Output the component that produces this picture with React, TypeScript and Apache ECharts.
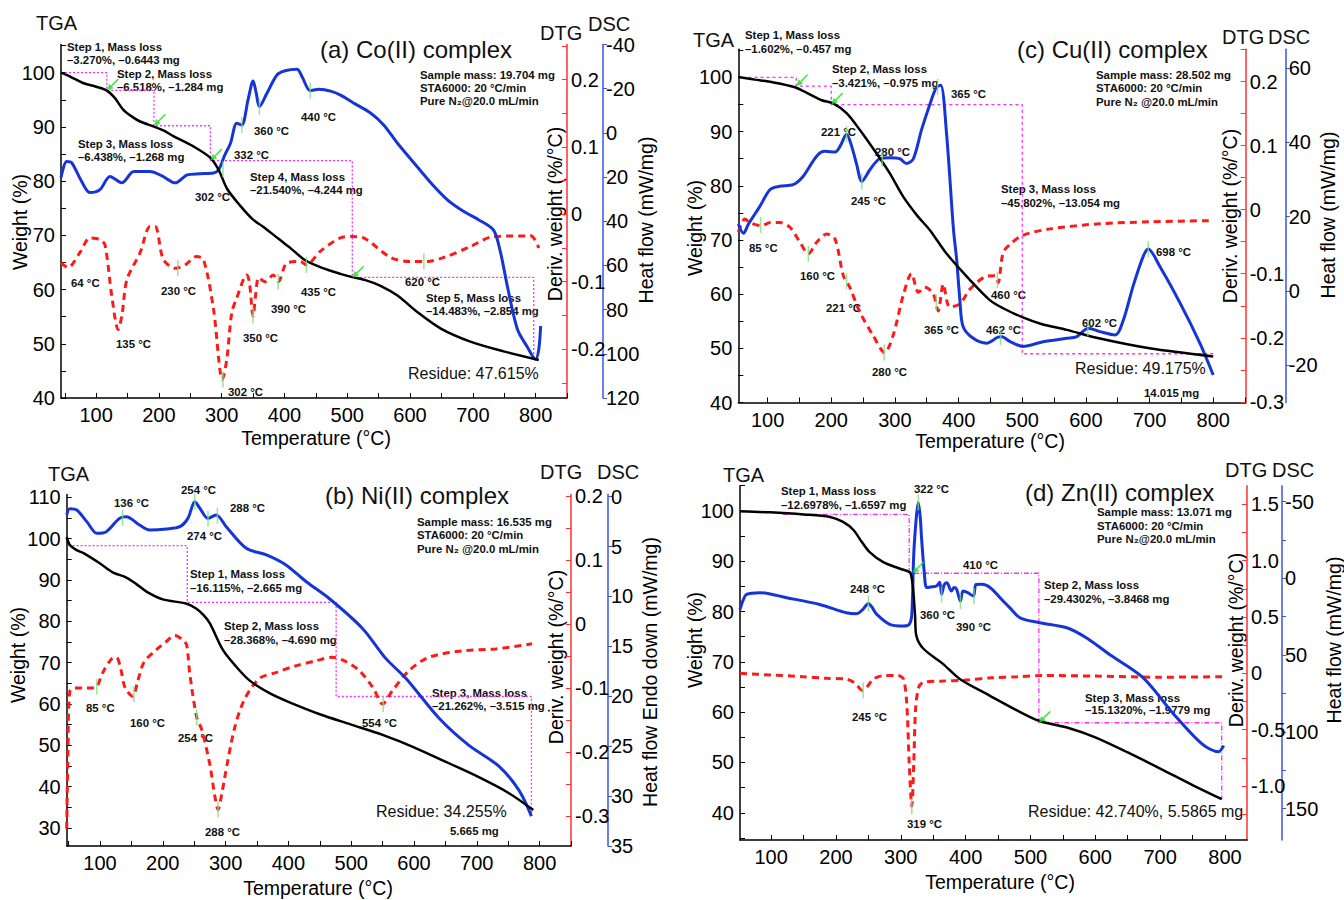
import React, { useEffect, useRef } from "react";
import * as echarts from "echarts";

const FONT = '"Liberation Sans", Arial, Helvetica, sans-serif';

// ---------------- (a) Co(II) complex ----------------
const coTGA = [[44,100],[60,99.2],[79,98.1],[100,97.4],[117,96.7],[130,95.3],[143,93.2],[157,91.9],[170,91.0],[191,90.1],[208,89.3],[223,88.3],[255,86.4],[282,84.3],[295,82.1],[309,78.5],[330,75.4],[350,72.9],[366,71.6],[390,69.4],[410,67.6],[433,65.4],[460,64.0],[489,62.9],[508,62.3],[530,61.7],[553,60.7],[580,58.9],[611,55.9],[649,52.8],[696,50.4],[749,48.6],[805,47.0]];
const coDTG = [[44,-0.072],[55,-0.079],[74,-0.057],[90,-0.035],[100,-0.036],[106,-0.038],[114,-0.045],[125,-0.122],[135,-0.171],[141,-0.15],[149,-0.097],[170,-0.057],[186,-0.018],[194,-0.018],[207,-0.067],[226,-0.08],[242,-0.075],[260,-0.0625],[271,-0.067],[287,-0.141],[301,-0.245],[308,-0.216],[316,-0.146],[324,-0.124],[340,-0.09],[344,-0.1],[350,-0.151],[354,-0.12],[359,-0.094],[369,-0.1],[382,-0.09],[390,-0.1],[404,-0.072],[425,-0.07],[435,-0.075],[457,-0.055],[489,-0.035],[508,-0.033],[526,-0.035],[569,-0.064],[600,-0.07],[627,-0.07],[654,-0.064],[696,-0.048],[733,-0.033],[792,-0.032],[805,-0.05]];
const coDSC = [[44,20.3],[53,13],[61,13.5],[75,21],[90,27],[106,25.7],[122,19.7],[141,22.6],[160,17.5],[186,17.5],[205,19.5],[226,22.6],[245,19],[265,18.5],[287,18.2],[295,16.7],[305,10],[314,4.7],[324,-4.4],[332,-3.6],[342,-15],[350,-23.5],[355,-18],[360,-11.9],[372,-17.9],[388,-26.2],[401,-28.1],[420,-28.8],[428,-25.4],[441,-19.1],[455,-19.8],[475,-18.8],[490,-17],[510,-13.5],[537,-9],[558,-3.6],[580,4.7],[606,13.5],[633,22.6],[659,30.2],[685,35.5],[709,39.3],[733,44],[744,54],[755,69.4],[771,88.9],[787,97],[800,102.5],[805,98],[808,87.4]];
const coStepT = [44,117,192,282,508,797];
const coStepW = [100,96.73,90.21,83.77,62.23,47.75];
const coArrows = [[117,96.7],[192,90.2],[282,83.8],[508,62.2]];
const coDscPeaks = [[302,16.5],[332,-3.6],[360,-11.9],[441,-19.1]];
const coDtgPeaks = [[230,-0.08],[302,-0.245],[350,-0.15],[390,-0.1],[435,-0.075],[622,-0.07]];

// ---------------- (b) Ni(II) complex ----------------
const niTGA = [[47,100.4],[52,98.5],[62,97.3],[74,96.5],[100,94],[121,91.8],[142,90.6],[158,89],[174,87.2],[200,85.3],[237,84.3],[253,83.1],[265,81.5],[275,79.5],[296,73],[317,69],[338,65.7],[370,62.6],[400,60.5],[450,57.5],[500,55],[550,52.5],[600,49.5],[650,46],[700,42.5],[750,38.5],[790,34.3]];
const niDTG = [[47,-0.32],[49,-0.2],[52,-0.105],[60,-0.1],[75,-0.1],[88,-0.1],[95,-0.098],[105,-0.075],[118,-0.055],[126,-0.052],[133,-0.07],[140,-0.1],[152,-0.113],[160,-0.09],[170,-0.06],[190,-0.04],[205,-0.028],[219,-0.018],[232,-0.025],[238,-0.033],[243,-0.078],[254,-0.146],[262,-0.165],[275,-0.22],[283,-0.27],[288,-0.29],[294,-0.265],[298,-0.243],[314,-0.164],[330,-0.118],[354,-0.085],[380,-0.076],[410,-0.066],[444,-0.0575],[470,-0.052],[490,-0.058],[513,-0.073],[535,-0.1],[550,-0.125],[565,-0.105],[592,-0.073],[624,-0.052],[677,-0.042],[730,-0.039],[788,-0.031]];
const niDSC = [[47,1.83],[52,1.2],[63,1.33],[79,2.5],[95,3.67],[110,3.5],[131,2.17],[142,2],[163,2.84],[179,3.34],[206,3.24],[227,3],[240,2.17],[251,0.5],[259,1.16],[272,2.17],[285,1.83],[301,3],[333,5.17],[365,5.84],[396,6.84],[428,8.5],[465,10.2],[518,13.2],[555,16.2],[587,18.2],[640,22.2],[687,24.9],[735,27],[767,29.4],[787,32]];
const niStepT = [50,239,476,787];
const niStepW = [98.3,84.6,61.8,33.3];
const niArrows: number[][] = [];
const niDscPeaks = [[136,2.1],[251,0.5],[272,2.2],[287,1.9]];
const niDtgPeaks = [[95,-0.098],[154,-0.11],[254,-0.146],[288,-0.29],[551,-0.125]];

// ---------------- (c) Cu(II) complex ----------------
const cuTGA = [[54,100.1],[80,99.6],[104,99.2],[143,98.2],[166,96.9],[185,95.8],[203,95.2],[224,93.4],[245,90.3],[271,86],[292,82.3],[313,78],[335,74.5],[355,71.8],[381,67.5],[418,62.6],[449,58.9],[470,57.4],[499,55.8],[530,54.5],[570,53.4],[622,51.8],[700,50],[800,48.5]];
const cuDTG = [[54,-0.035],[60,-0.02],[64,-0.0145],[72,-0.02],[90,-0.025],[105,-0.02],[119,-0.02],[135,-0.0275],[151,-0.051],[164,-0.069],[177,-0.051],[193,-0.038],[206,-0.046],[219,-0.103],[229,-0.121],[245,-0.16],[266,-0.197],[284,-0.223],[297,-0.197],[313,-0.134],[326,-0.1],[337,-0.129],[347,-0.121],[360,-0.131],[368,-0.158],[376,-0.116],[386,-0.152],[402,-0.147],[418,-0.124],[441,-0.105],[457,-0.103],[462,-0.114],[470,-0.067],[481,-0.054],[501,-0.04],[544,-0.03],[622,-0.022],[701,-0.019],[800,-0.017]];
const cuDSC = [[54,18],[62,15.5],[70,18],[88,22.8],[104,27.3],[119,28.2],[140,28.6],[156,30.9],[177,36.3],[190,37.6],[206,37.4],[214,39],[224,42.2],[232,39],[240,34],[248,29.5],[261,32.7],[276,35.6],[292,35.9],[308,35.6],[318,34.3],[329,35.6],[342,43.5],[355,50.3],[365,54.8],[372,55.4],[381,42.6],[392,16.5],[397,8.4],[402,-2.4],[407,-9.6],[423,-12.8],[444,-14.1],[462,-12.5],[468,-12.4],[481,-13.7],[501,-15],[533,-13.7],[570,-12.8],[585,-12.4],[604,-10.1],[622,-11],[646,-11.9],[659,-7.8],[674,1.2],[690,9.3],[698,11.3],[716,6.6],[748,-3.3],[779,-14.1],[800,-22.7]];
const cuStepT = [70,145,200,500,800];
const cuStepW = [100,98.4,95.0,49.0];
const cuArrows = [[145,98.4],[200,95.0]];
const cuDscPeaks = [[224,42.2],[248,29.5],[280,35.6],[367,55],[466,-12.4],[603,-10.1],[698,11.3]];
const cuDtgPeaks = [[89,-0.024],[164,-0.069],[224,-0.112],[283,-0.223],[365,-0.145],[461,-0.11]];

// ---------------- (d) Zn(II) complex ----------------
const znTGA = [[52,99.9],[98,99.7],[150,99.3],[191,98.8],[211,97.8],[227,96.2],[240,93.8],[252,91.8],[273,89.8],[299,88.5],[314,87.8],[317,86.5],[319,84.5],[322,79.2],[324,75.2],[335,72.6],[365,69.6],[391,66.6],[437,63.3],[480,60.3],[513,58.3],[560,56.8],[600,55],[650,52],[700,48.8],[750,45.5],[795,42.7]];
const znDTG = [[52,0],[98,-0.015],[149,-0.03],[186,-0.045],[215,-0.05],[230,-0.09],[240,-0.15],[248,-0.12],[258,-0.05],[275,-0.02],[296,-0.02],[304,-0.05],[309,-0.25],[313,-0.8],[317,-1.18],[320,-0.8],[323,-0.3],[328,-0.12],[335,-0.08],[360,-0.07],[400,-0.06],[440,-0.04],[480,-0.03],[520,-0.02],[600,-0.025],[700,-0.035],[800,-0.03]];
const znDSC = [[52,20.2],[57,14],[62,10.4],[83,9.3],[124,12.6],[175,17],[216,22.4],[232,23],[242,20],[250,16.3],[256,19],[263,23.5],[283,30],[304,31.1],[313,30],[317,23.5],[320,-15.7],[324,-40],[327,-49.4],[330,-40],[332,-26.6],[336,-5],[340,6],[348,5.5],[355,5],[360,2.5],[363,10.4],[367,4],[371,2.8],[378,8.3],[382,6],[386,7],[392,14.8],[396,8.3],[404,9.5],[412,11.6],[416,4],[425,3.9],[438,6.1],[458,14.8],[468,19.1],[484,25.7],[514,28.9],[556,32.2],[586,38.7],[622,49.6],[674,64.8],[720,88],[765,108],[790,113],[798,109]];
const znStepT = [118,313,513,795];
const znStepW = [99.3,87.6,57.9,42.7];
const znArrows = [[318,87.6],[513,57.9]];
const znDscPeaks = [[250,16.3],[327,-49.4],[363,10.4],[392,14.8],[413,11.6]];
const znDtgPeaks = [[242,-0.15],[317,-1.18]];

// ---------------- tick labels ----------------
const xLabelVals = [100,200,300,400,500,600,700,800];
const xTickVals = [50,100,150,200,250,300,350,400,450,500,550,600,650,700,750,800,850];
const wLabelsACD = [40,50,60,70,80,90,100];
const wLabelsB = [30,40,50,60,70,80,90,100,110];
const wTickVals = [25,30,35,40,45,50,55,60,65,70,75,80,85,90,95,100,105,110];
const dtgLabelsA = [-0.2,-0.1,0,0.1,0.2];
const dtgLabelsBC = [-0.3,-0.2,-0.1,0,0.1,0.2];
const dtgTicksABC = [-0.3,-0.25,-0.2,-0.15,-0.1,-0.05,0,0.05,0.1,0.15,0.2,0.25];
const dtgLabelsD = [-1.5,-1,-0.5,0,0.5,1,1.5];
const dtgTicksD = [-1.5,-1.25,-1,-0.75,-0.5,-0.25,0,0.25,0.5,0.75,1,1.25,1.5];
const dscLabelsA = [-40,-20,0,20,40,60,80,100,120];
const dscLabelsB = [0,5,10,15,20,25,30,35];
const dscLabelsC = [-20,0,20,40,60];
const dscLabelsD = [-50,0,50,100,150];
const dscTicksD = [-50,-25,0,25,50,75,100,125,150];

type TextItem = [string, number, number, string];

const panels = [
  {
    box: { left: 61, top: 44.5, width: 506, height: 353.5 },
    x: [44, 850], w: [40, 105.2], wLabels: wLabelsACD,
    dtgR: [-0.2726, 0.252], dtgLabels: dtgLabelsA, dtgTicks: dtgTicksABC, dtgFix: false,
    dscR: [-40, 120], dscInv: true, dscLabels: dscLabelsA, dscTicks: dscLabelsA, dscOffset: 36,
    tga: coTGA, dtg: coDTG, dsc: coDSC, stepT: coStepT, stepW: coStepW, arrows: coArrows,
    dscPeaks: coDscPeaks, dtgPeaks: coDtgPeaks, stepType: [2, 2],
    texts: [
      ["TGA", 36, 13, "h"], ["(a) Co(II) complex", 320, 37, "t"], ["DTG", 540, 23, "h"], ["DSC", 588, 14, "h"],
      ["Step 1, Mass loss", 67, 41, "b"], ["–3.270%, –0.6443 mg", 67, 54, "b"],
      ["Step 2, Mass loss", 117, 68, "b"], ["–6.518%, –1.284 mg", 117, 81, "b"],
      ["Step 3, Mass loss", 78, 138, "b"], ["–6.438%, –1.268 mg", 78, 151, "b"],
      ["332 °C", 234, 149, "b"], ["302 °C", 195, 191, "b"], ["360 °C", 254, 125, "b"], ["440 °C", 301, 111, "b"],
      ["Step 4, Mass loss", 250, 171, "b"], ["–21.540%, –4.244 mg", 250, 184, "b"],
      ["Sample mass: 19.704 mg", 420, 69, "b"], ["STA6000: 20 °C/min", 420, 82, "b"], ["Pure N₂@20.0 mL/min", 420, 95, "b"],
      ["64 °C", 71, 277, "b"], ["135 °C", 116, 338, "b"], ["230 °C", 161, 285, "b"], ["302 °C", 228, 386, "b"],
      ["350 °C", 243, 332, "b"], ["390 °C", 271, 303, "b"], ["435 °C", 301, 286, "b"], ["620 °C", 405, 276, "b"],
      ["Step 5, Mass loss", 426, 292, "b"], ["–14.483%, –2.854 mg", 426, 305, "b"],
      ["Residue: 47.615%", 408, 365, "r"],
    ] as TextItem[],
    names: { temp: [316, 438], weight: [20, 222], deriv: [555, 214], heat: [646, 220], heatText: "Heat flow (mW/mg)" },
  },
  {
    box: { left: 66.7, top: 494.5, width: 504.3, height: 351.5 },
    x: [47, 850], w: [25.6, 110.7], wLabels: wLabelsB,
    dtgR: [-0.347, 0.2023], dtgLabels: dtgLabelsBC, dtgTicks: dtgTicksABC, dtgFix: false,
    dscR: [-0.22, 35], dscInv: true, dscLabels: dscLabelsB, dscTicks: dscLabelsB, dscOffset: 37,
    tga: niTGA, dtg: niDTG, dsc: niDSC, stepT: niStepT, stepW: niStepW, arrows: niArrows,
    dscPeaks: niDscPeaks, dtgPeaks: niDtgPeaks, stepType: [2, 2],
    texts: [
      ["TGA", 48, 464, "h"], ["(b) Ni(II) complex", 325, 483, "t"], ["DTG", 540, 462, "h"], ["DSC", 597, 462, "h"],
      ["136 °C", 114, 497, "b"], ["254 °C", 181, 484, "b"], ["288 °C", 230, 502, "b"], ["274 °C", 187, 530, "b"],
      ["Step 1, Mass loss", 190, 568, "b"], ["–16.115%, –2.665 mg", 190, 582, "b"],
      ["Step 2, Mass loss", 224, 620, "b"], ["–28.368%, –4.690 mg", 224, 634, "b"],
      ["Sample mass: 16.535 mg", 417, 516, "b"], ["STA6000: 20 °C/min", 417, 529, "b"], ["Pure N₂ @20.0 mL/min", 417, 543, "b"],
      ["85 °C", 86, 702, "b"], ["160 °C", 130, 717, "b"], ["254 °C", 178, 732, "b"], ["288 °C", 205, 826, "b"], ["554 °C", 362, 717, "b"],
      ["Step 3, Mass loss", 432, 687, "b"], ["–21.262%, –3.515 mg", 432, 700, "b"],
      ["Residue: 34.255%", 376, 803, "r"], ["5.665 mg", 450, 825, "b"],
    ] as TextItem[],
    names: { temp: [318, 888], weight: [18, 655], deriv: [556, 657], heat: [650, 672], heatText: "Heat flow Endo down (mW/mg)" },
  },
  {
    box: { left: 738.3, top: 49.3, width: 507.4, height: 353.2 },
    x: [54, 851], w: [40, 105.2], wLabels: wLabelsACD,
    dtgR: [-0.301, 0.2503], dtgLabels: dtgLabelsBC, dtgTicks: dtgTicksABC, dtgFix: false,
    dscR: [-30.1, 65.1], dscInv: false, dscLabels: dscLabelsC, dscTicks: dscLabelsC, dscOffset: 40,
    tga: cuTGA, dtg: cuDTG, dsc: cuDSC, stepT: cuStepT, stepW: cuStepW, arrows: cuArrows,
    dscPeaks: cuDscPeaks, dtgPeaks: cuDtgPeaks, stepType: [3, 3],
    texts: [
      ["TGA", 693, 30, "h"], ["(c) Cu(II) complex", 1017, 37, "t"], ["DTG", 1222, 27, "h"], ["DSC", 1268, 27, "h"],
      ["Step 1, Mass loss", 745, 29, "b"], ["–1.602%, –0.457 mg", 745, 43, "b"],
      ["Step 2, Mass loss", 832, 63, "b"], ["–3.421%, –0.975 mg", 832, 77, "b"],
      ["365 °C", 951, 88, "b"], ["221 °C", 821, 126, "b"], ["280 °C", 875, 146, "b"], ["245 °C", 851, 195, "b"],
      ["Step 3, Mass loss", 1001, 183, "b"], ["–45.802%, –13.054 mg", 1001, 197, "b"],
      ["Sample mass: 28.502 mg", 1096, 69, "b"], ["STA6000: 20 °C/min", 1096, 82, "b"], ["Pure N₂ @20.0 mL/min", 1096, 96, "b"],
      ["85 °C", 749, 242, "b"], ["160 °C", 800, 270, "b"], ["221 °C", 826, 302, "b"], ["280 °C", 872, 366, "b"],
      ["365 °C", 924, 324, "b"], ["460 °C", 991, 289, "b"], ["462 °C", 986, 324, "b"], ["602 °C", 1082, 317, "b"], ["698 °C", 1156, 246, "b"],
      ["Residue: 49.175%", 1075, 360, "r"], ["14.015 mg", 1144, 387, "b"],
    ] as TextItem[],
    names: { temp: [990, 441], weight: [695, 228], deriv: [1230, 216], heat: [1328, 215], heatText: "Heat flow (mW/mg)" },
  },
  {
    box: { left: 740, top: 485.7, width: 507, height: 354.3 },
    x: [52, 834], w: [34.6, 105], wLabels: wLabelsACD,
    dtgR: [-1.48, 1.665], dtgLabels: dtgLabelsD, dtgTicks: dtgTicksD, dtgFix: true,
    dscR: [-60.4, 170.5], dscInv: true, dscLabels: dscLabelsD, dscTicks: dscTicksD, dscOffset: 35,
    tga: znTGA, dtg: znDTG, dsc: znDSC, stepT: znStepT, stepW: znStepW, arrows: znArrows,
    dscPeaks: znDscPeaks, dtgPeaks: znDtgPeaks, stepType: [5, 2, 1, 2],
    texts: [
      ["TGA", 723, 465, "h"], ["(d) Zn(II) complex", 1025, 480, "t"], ["DTG", 1225, 460, "h"], ["DSC", 1272, 460, "h"],
      ["Step 1, Mass loss", 781, 485, "b"], ["–12.6978%, –1.6597 mg", 781, 499, "b"],
      ["322 °C", 914, 483, "b"], ["248 °C", 850, 583, "b"], ["410 °C", 963, 559, "b"], ["360 °C", 920, 609, "b"], ["390 °C", 956, 621, "b"],
      ["Sample mass: 13.071 mg", 1097, 506, "b"], ["STA6000: 20 °C/min", 1097, 520, "b"], ["Pure N₂@20.0 mL/min", 1097, 533, "b"],
      ["Step 2, Mass loss", 1044, 579, "b"], ["–29.4302%, –3.8468 mg", 1044, 593, "b"],
      ["Step 3, Mass loss", 1085, 692, "b"], ["–15.1320%, –1.9779 mg", 1085, 704, "b"],
      ["245 °C", 852, 711, "b"], ["319 °C", 907, 818, "b"],
      ["Residue: 42.740%, 5.5865 mg", 1028, 803, "r"],
    ] as TextItem[],
    names: { temp: [1000, 882], weight: [695, 640], deriv: [1236, 640], heat: [1334, 640], heatText: "Heat flow (mW/mg)" },
  },
];

const ARROW = "path://M0,10 L2,4 L3.5,5.5 L9.5,-0.5 L10.5,0.5 L4.5,6.5 L6,8 Z";

function staircase(ts: number[], ws: number[]) {
  const pts: number[][] = [[ts[0], ws[0]]];
  for (let i = 1; i < ts.length; i++) {
    pts.push([ts[i], ws[i - 1]]);
    if (i < ws.length) pts.push([ts[i], ws[i]]);
  }
  return pts;
}

const inRange = (vals: number[], r: number[]) => vals.filter((v) => v >= r[0] - 1e-9 && v <= r[1] + 1e-9);

function buildOption() {
  const grid: any[] = [];
  const xAxis: any[] = [];
  const yAxis: any[] = [];
  const series: any[] = [];
  const graphic: any[] = [];
  const labelBase = { color: "#000", fontSize: 20, fontFamily: FONT };

  panels.forEach((p, i) => {
    grid.push({ left: p.box.left, top: p.box.top, width: p.box.width, height: p.box.height, containLabel: false });
    xAxis.push({
      type: "value", gridIndex: i, min: p.x[0], max: p.x[1],
      axisLine: { onZero: false, lineStyle: { color: "#000", width: 1.5 } },
      axisTick: { inside: true, length: 5, customValues: inRange(xTickVals, p.x), lineStyle: { color: "#000" } },
      axisLabel: { ...labelBase, margin: 7, customValues: xLabelVals },
      splitLine: { show: false },
    });
    yAxis.push({
      type: "value", gridIndex: i, position: "left", min: p.w[0], max: p.w[1],
      axisLine: { show: true, onZero: false, lineStyle: { color: "#000", width: 1.5 } },
      axisTick: { show: true, inside: true, length: 5, customValues: inRange(wTickVals, p.w), lineStyle: { color: "#000" } },
      axisLabel: { ...labelBase, margin: 6, customValues: p.wLabels },
      splitLine: { show: false },
    });
    yAxis.push({
      type: "value", gridIndex: i, position: "right", offset: 0, min: p.dtgR[0], max: p.dtgR[1],
      axisLine: { show: true, onZero: false, lineStyle: { color: "#ff3030", width: 1.5 } },
      axisTick: { show: true, inside: true, length: 5, customValues: inRange(p.dtgTicks, p.dtgR), lineStyle: { color: "#ff3030" } },
      axisLabel: {
        ...labelBase, margin: 4, customValues: p.dtgLabels,
        formatter: (v: number) => (Math.abs(v) < 1e-9 ? "0" : p.dtgFix ? v.toFixed(1) : String(Math.round(v * 100) / 100)),
      },
      splitLine: { show: false },
    });
    yAxis.push({
      type: "value", gridIndex: i, position: "right", offset: p.dscOffset, min: p.dscR[0], max: p.dscR[1], inverse: p.dscInv,
      axisLine: { show: true, onZero: false, lineStyle: { color: "#3a56e0", width: 1.5 } },
      axisTick: { show: true, inside: false, length: 4, customValues: inRange(p.dscTicks, p.dscR), lineStyle: { color: "#3a56e0" } },
      axisLabel: { ...labelBase, margin: 3, customValues: p.dscLabels },
      splitLine: { show: false },
    });

    const xi = i;
    const yW = 3 * i, yD = 3 * i + 1, yH = 3 * i + 2;
    series.push({
      type: "line", xAxisIndex: xi, yAxisIndex: yW, data: staircase(p.stepT, p.stepW), symbol: "none", silent: true,
      lineStyle: { color: "#ff2cff", width: 1.3, type: p.stepType }, z: 1,
    });
    series.push({
      type: "line", xAxisIndex: xi, yAxisIndex: yD, data: p.dtg, smooth: 0.3, symbol: "none", silent: true,
      lineStyle: { color: "#ff1a1a", width: 3, type: [7, 5] }, z: 2,
    });
    series.push({
      type: "line", xAxisIndex: xi, yAxisIndex: yH, data: p.dsc, smooth: 0.3, symbol: "none", silent: true,
      lineStyle: { color: "#1535d6", width: 3 }, z: 3,
    });
    series.push({
      type: "line", xAxisIndex: xi, yAxisIndex: yW, data: p.tga, smooth: 0.3, symbol: "none", silent: true,
      lineStyle: { color: "#000", width: 2.5 }, z: 4,
    });
    series.push({
      type: "scatter", xAxisIndex: xi, yAxisIndex: yH, data: p.dscPeaks, symbol: "rect", symbolSize: [1.5, 16], silent: true,
      itemStyle: { color: "#7ddf7d" }, z: 6,
    });
    series.push({
      type: "scatter", xAxisIndex: xi, yAxisIndex: yD, data: p.dtgPeaks, symbol: "rect", symbolSize: [1.5, 16], silent: true,
      itemStyle: { color: "#7ddf7d" }, z: 6,
    });
    if (p.arrows.length) {
      series.push({
        type: "scatter", xAxisIndex: xi, yAxisIndex: yW, data: p.arrows, symbol: ARROW, symbolSize: 12, symbolKeepAspect: true,
        symbolOffset: [6, -6], silent: true, itemStyle: { color: "#19e019" }, z: 7,
      });
    }

    p.texts.forEach(([text, x, y, kind]) => {
      const size = kind === "b" ? 11.4 : kind === "r" ? 16 : kind === "h" ? 20 : 24;
      graphic.push({
        type: "text", x, y, silent: true,
        style: {
          text, fill: "#111", fontSize: size, fontWeight: kind === "b" ? "bold" : "normal", fontFamily: FONT,
          align: "left", verticalAlign: "top", textAlign: "left", textVerticalAlign: "top",
        },
      });
    });
    const n = p.names;
    const centered = (text: string, pos: number[], rot: boolean) => ({
      type: "text", x: pos[0], y: pos[1], rotation: rot ? Math.PI / 2 : 0, silent: true,
      style: {
        text, fill: "#000", fontSize: 19.5, fontFamily: FONT,
        align: "center", verticalAlign: "middle", textAlign: "center", textVerticalAlign: "middle",
      },
    });
    graphic.push(centered("Temperature (°C)", n.temp, false));
    graphic.push(centered("Weight (%)", n.weight, true));
    graphic.push(centered("Deriv. weight (%/°C)", n.deriv, true));
    graphic.push(centered(n.heatText, n.heat, true));
  });

  return { animation: false, backgroundColor: "#fff", grid, xAxis, yAxis, series, graphic };
}

export default function App() {
  const ref = useRef<HTMLDivElement>(null);
  useEffect(() => {
    document.body.style.margin = "0";
    if (!ref.current) return;
    const chart = echarts.init(ref.current, undefined, { renderer: "svg" });
    chart.setOption(buildOption() as any);
    return () => chart.dispose();
  }, []);
  return <div ref={ref} style={{ width: 1344, height: 900 }} />;
}
